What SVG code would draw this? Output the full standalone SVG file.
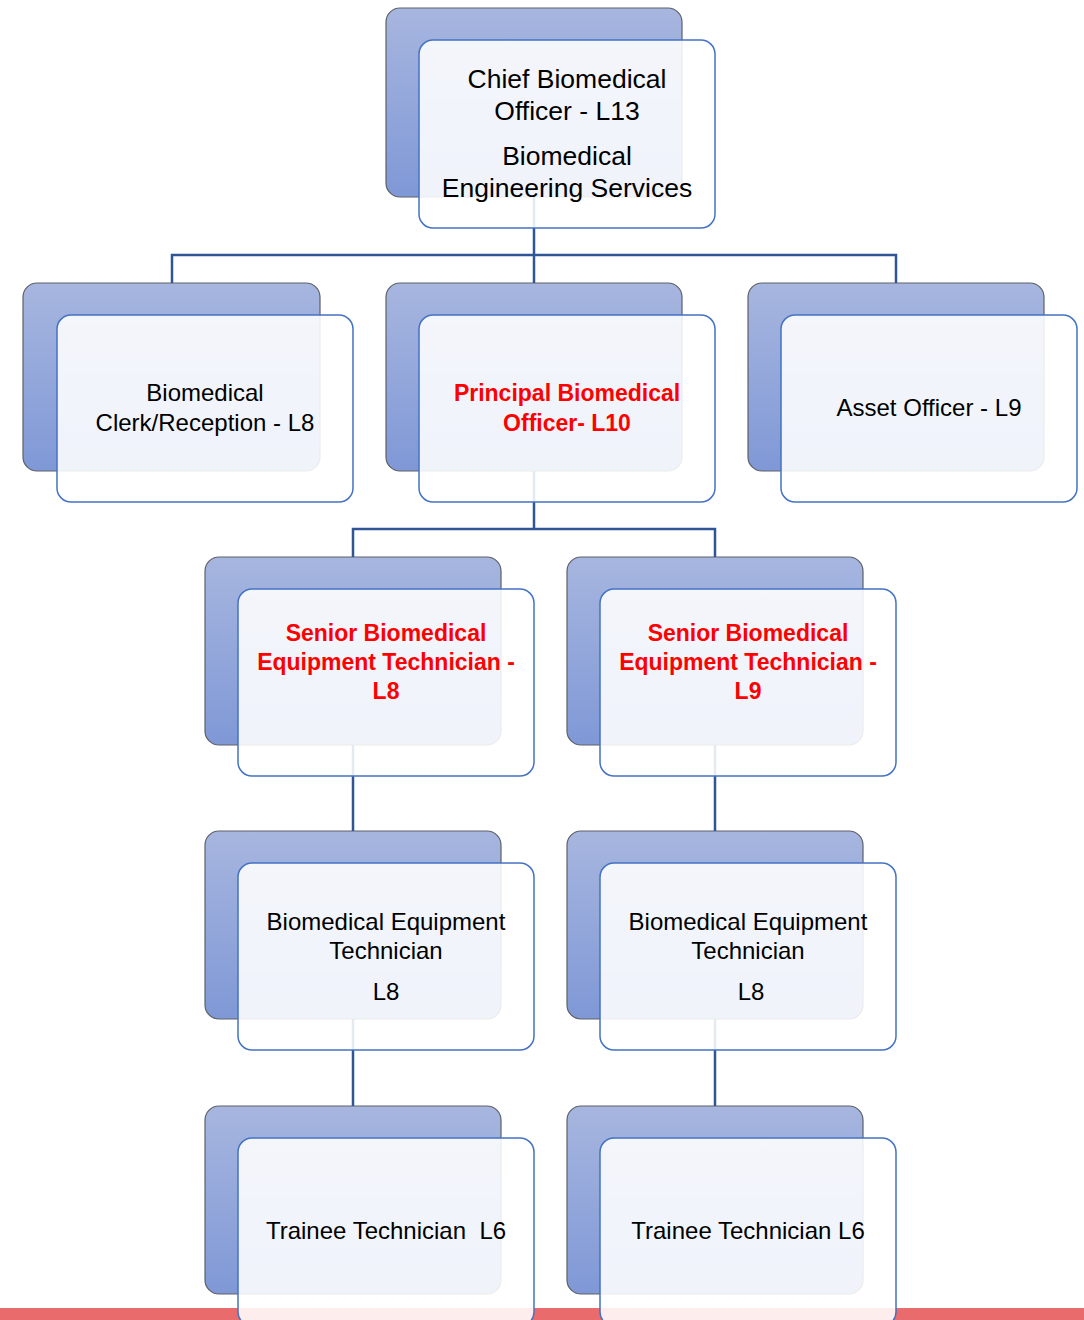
<svg xmlns="http://www.w3.org/2000/svg" width="1084" height="1320" viewBox="0 0 1084 1320">
<defs>
<linearGradient id="bg" x1="0" y1="0" x2="0" y2="1">
<stop offset="0" stop-color="#a7b6df"/>
<stop offset="1" stop-color="#7f98d6"/>
</linearGradient>
<style>
.back{fill:url(#bg);stroke:#5e6068;stroke-width:1.2}
.front{fill:#ffffff;fill-opacity:0.88;stroke:#4472c4;stroke-width:1.5}
.conn{fill:none;stroke:#2f5597;stroke-width:2.5}
.t{font-family:"Liberation Sans",Arial,sans-serif;font-size:24px;fill:#000;text-anchor:middle}
.big{font-size:26.5px}
.r{font-family:"Liberation Sans",Arial,sans-serif;font-size:23px;font-weight:bold;fill:#ff0000;text-anchor:middle}
</style>
</defs>
<rect x="0" y="0" width="1084" height="1320" fill="#ffffff"/>
<rect x="0" y="1308" width="1084" height="12" fill="#e96b6b"/>
<g id="backs">
<rect class="back" x="386" y="8" width="296" height="189" rx="14"/>
<rect class="back" x="23" y="283" width="297" height="188" rx="14"/>
<rect class="back" x="386" y="283" width="296" height="188" rx="14"/>
<rect class="back" x="748" y="283" width="296" height="188" rx="14"/>
<rect class="back" x="205" y="557" width="296" height="188" rx="14"/>
<rect class="back" x="567" y="557" width="296" height="188" rx="14"/>
<rect class="back" x="205" y="831" width="296" height="188" rx="14"/>
<rect class="back" x="567" y="831" width="296" height="188" rx="14"/>
<rect class="back" x="205" y="1106" width="296" height="188" rx="14"/>
<rect class="back" x="567" y="1106" width="296" height="188" rx="14"/>
</g>
<g id="connectors">
<path class="conn" d="M534 197V255M172 283V255H896V283M534 255V283"/>
<path class="conn" d="M534 471V529M353 557V529H715V557"/>
<path class="conn" d="M353 745V831M715 745V831"/>
<path class="conn" d="M353 1019V1106M715 1019V1106"/>
</g>
<g id="n-chief">
<rect class="front" x="419" y="40" width="296" height="188" rx="14"/>
<text class="t big" x="567" y="88">Chief Biomedical</text>
<text class="t big" x="567" y="120">Officer - L13</text>
<text class="t big" x="567" y="165">Biomedical</text>
<text class="t big" x="567" y="197">Engineering Services</text>
</g>
<g id="n-clerk">
<rect class="front" x="57" y="315" width="296" height="187" rx="14"/>
<text class="t" x="205" y="401">Biomedical</text>
<text class="t" x="205" y="431">Clerk/Reception - L8</text>
</g>
<g id="n-principal">
<rect class="front" x="419" y="315" width="296" height="187" rx="14"/>
<text class="r" x="567" y="401">Principal Biomedical</text>
<text class="r" x="567" y="431">Officer- L10</text>
</g>
<g id="n-asset">
<rect class="front" x="781" y="315" width="296" height="187" rx="14"/>
<text class="t" x="929" y="416">Asset Officer - L9</text>
</g>
<g id="n-senior-l8">
<rect class="front" x="238" y="589" width="296" height="187" rx="14"/>
<text class="r" x="386" y="641">Senior Biomedical</text>
<text class="r" x="386" y="670">Equipment Technician -</text>
<text class="r" x="386" y="699">L8</text>
</g>
<g id="n-senior-l9">
<rect class="front" x="600" y="589" width="296" height="187" rx="14"/>
<text class="r" x="748" y="641">Senior Biomedical</text>
<text class="r" x="748" y="670">Equipment Technician -</text>
<text class="r" x="748" y="699">L9</text>
</g>
<g id="n-tech-left">
<rect class="front" x="238" y="863" width="296" height="187" rx="14"/>
<text class="t" x="386" y="930">Biomedical Equipment</text>
<text class="t" x="386" y="959">Technician</text>
<text class="t" x="386" y="1000">L8</text>
</g>
<g id="n-tech-right">
<rect class="front" x="600" y="863" width="296" height="187" rx="14"/>
<text class="t" x="748" y="930">Biomedical Equipment</text>
<text class="t" x="748" y="959">Technician</text>
<text class="t" x="751" y="1000">L8</text>
</g>
<g id="n-trainee-left">
<rect class="front" x="238" y="1138" width="296" height="188" rx="14"/>
<text class="t" x="386" y="1239" xml:space="preserve">Trainee Technician  L6</text>
</g>
<g id="n-trainee-right">
<rect class="front" x="600" y="1138" width="296" height="188" rx="14"/>
<text class="t" x="748" y="1239">Trainee Technician L6</text>
</g>
</svg>
